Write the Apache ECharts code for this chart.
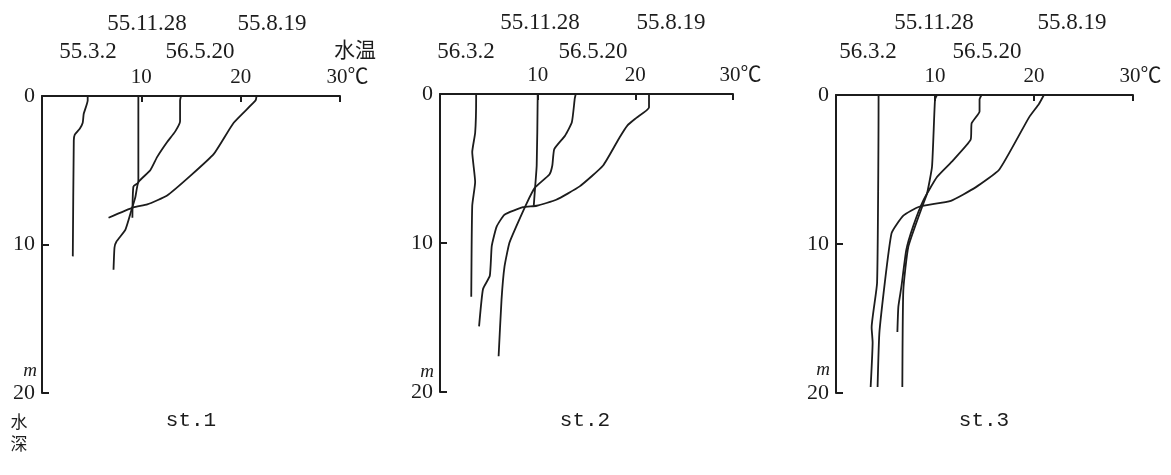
<!DOCTYPE html>
<html><head><meta charset="utf-8">
<script src="https://cdn.jsdelivr.net/npm/echarts@6/dist/echarts.min.js"></script>
<style>html,body{margin:0;padding:0;background:#fff}#c{width:1171px;height:475px}</style>
</head><body><div id="c"></div>
<script>
// Tick values
const tempTicks = [0, 10, 20, 30];   // 水温 (°C)
const depthTicks = [0, 10, 20];      // 水深 (m)

// Station names
const stations = ['st.1', 'st.2', 'st.3'];

// Date labels per station (top row, bottom row)
const st1Dates = ['55.11.28', '55.8.19', '55.3.2', '56.5.20'];
const st2Dates = ['55.11.28', '55.8.19', '56.3.2', '56.5.20'];
const st3Dates = ['55.11.28', '55.8.19', '56.3.2', '56.5.20'];

// Profiles: [temperature °C, depth m]
// st.1
const st1_55_3_2   = [[4.6,0],[4.6,0.3],[4.2,1.2],[4.1,1.8],[3.8,2.2],[3.3,2.6],[3.2,3.0],[3.1,10.8]];
const st1_55_11_28 = [[9.7,0],[9.7,5.8],[9.2,6.1],[9.1,8.2]];
const st1_56_5_20  = [[14.0,0],[13.9,0.3],[13.9,1.7],[13.4,2.4],[12.6,3.1],[11.6,4.1],[10.9,5.0],[9.7,5.8],[9.4,6.8],[9.0,7.7],[8.4,9.0],[7.5,9.8],[7.3,10.2],[7.2,11.7]];
const st1_55_8_19  = [[21.6,0],[21.5,0.3],[19.3,1.8],[17.3,3.9],[14.9,5.4],[12.6,6.7],[10.6,7.3],[9.2,7.5],[6.7,8.2]];
// st.2
const st2_56_3_2   = [[3.7,0],[3.7,0.3],[3.6,2.6],[3.3,3.9],[3.6,5.9],[3.3,7.5],[3.2,13.6]];
const st2_55_11_28 = [[10.0,0],[10.0,0.3],[9.9,4.8],[9.7,6.6],[9.6,7.5]];
const st2_56_5_20  = [[13.9,0],[13.8,0.3],[13.5,1.9],[12.8,2.8],[11.7,3.7],[11.5,4.8],[11.2,5.4],[9.7,6.3],[8.9,7.3],[7.8,8.9],[7.1,10.0],[6.6,11.6],[6.3,13.8],[6.0,17.6]];
const st2_55_8_19  = [[21.4,0],[21.4,0.9],[20.1,1.6],[19.2,2.1],[18.4,2.9],[16.7,4.8],[14.3,6.2],[11.9,7.1],[9.9,7.5],[8.5,7.6],[6.6,8.1],[5.8,8.9],[5.3,10.2],[5.1,12.2],[4.4,13.1],[4.0,15.6]];
// st.3
const st3_56_3_2   = [[4.3,0],[4.3,0.3],[4.15,12.6],[3.6,15.6],[3.7,16.6],[3.5,19.6]];
const st3_55_11_28 = [[10.2,0],[10.0,0.3],[9.7,4.8],[9.2,6.6],[8.7,7.5],[7.3,10.2],[6.8,13.1],[6.7,19.6]];
const st3_56_5_20  = [[14.7,0],[14.5,0.3],[14.5,1.1],[13.7,1.9],[13.6,3.0],[11.8,4.4],[10.2,5.5],[8.8,7.1],[7.8,8.8],[7.1,10.4],[6.6,12.9],[6.3,14.2],[6.2,15.9]];
const st3_55_8_19  = [[21.0,0],[20.5,0.6],[19.5,1.5],[16.5,5.0],[14.1,6.2],[11.6,7.1],[8.4,7.5],[6.8,8.1],[5.6,9.3],[4.4,15.8],[4.2,19.6]];

const panels = [
  {name: stations[0], dates: st1Dates, series: [st1_55_3_2, st1_55_11_28, st1_56_5_20, st1_55_8_19]},
  {name: stations[1], dates: st2Dates, series: [st2_56_3_2, st2_55_11_28, st2_56_5_20, st2_55_8_19]},
  {name: stations[2], dates: st3Dates, series: [st3_56_3_2, st3_55_11_28, st3_56_5_20, st3_55_8_19]}
];

// Layout
const gridPos = [
  {left: 42, top: 96, width: 298, height: 297},
  {left: 440, top: 94, width: 293, height: 298},
  {left: 836, top: 95, width: 297, height: 298}
];
const ink = '#1c1c1c';
const serif = '"Liberation Serif", "Noto Sans CJK SC", serif';

const chart = echarts.init(document.getElementById('c'), null, {renderer: 'canvas'});

const grid = [], xAxis = [], yAxis = [], series = [], graphic = [];
panels.forEach((p, i) => {
  const g = gridPos[i];
  grid.push({left: g.left, top: g.top, width: g.width, height: g.height, containLabel: false});
  xAxis.push({
    gridIndex: i, type: 'value', position: 'top',
    min: tempTicks[0], max: tempTicks[tempTicks.length - 1], interval: 10,
    axisLine: {show: true, onZero: false, lineStyle: {color: ink, width: 2}},
    axisTick: {show: true, inside: true, length: 6, lineStyle: {color: ink, width: 2}},
    splitLine: {show: false},
    axisLabel: {
      color: ink, fontFamily: serif, fontSize: 21, margin: 8,
      formatter: v => v === 0 ? '' : (v === 30 ? '{u|' + v + '℃}' : String(v)),
      rich: {u: {color: ink, fontFamily: serif, fontSize: 21, padding: [0, 0, 0, 15]}}
    }
  });
  yAxis.push({
    gridIndex: i, type: 'value', inverse: true,
    min: depthTicks[0], max: depthTicks[depthTicks.length - 1], interval: 10,
    axisLine: {show: true, onZero: false, lineStyle: {color: ink, width: 2}},
    axisTick: {show: true, inside: true, length: 7, lineStyle: {color: ink, width: 2}},
    splitLine: {show: false},
    axisLabel: {color: ink, fontFamily: serif, fontSize: 22, margin: 7}
  });
  p.series.forEach((d, k) => {
    series.push({
      type: 'line', xAxisIndex: i, yAxisIndex: i, data: d,
      showSymbol: false, symbol: 'none', smooth: 0.15,
      lineStyle: {color: ink, width: 1.8}, silent: true, animation: false
    });
  });
});

// date labels (positions per panel)
const datePos = [
  [[147, 24], [272, 24], [88, 52], [200, 52]],
  [[540, 23], [671, 23], [466, 52], [593, 52]],
  [[934, 23], [1072, 23], [868, 52], [987, 52]]
];
panels.forEach((p, i) => {
  p.dates.forEach((t, k) => {
    graphic.push({type: 'text', x: datePos[i][k][0], y: datePos[i][k][1], silent: true,
      style: {text: t, fill: ink, font: '23px ' + serif, align: 'center', verticalAlign: 'middle'}});
  });
});
const stPos = [[191, 420], [585, 420], [984, 420]];
panels.forEach((p, i) => {
  graphic.push({type: 'text', x: stPos[i][0], y: stPos[i][1], silent: true,
    style: {text: p.name, fill: ink, font: '21px "Liberation Mono", monospace', align: 'center', verticalAlign: 'middle'}});
});
const mPos = [[30, 371], [427, 372], [823, 370]];
mPos.forEach(m => {
  graphic.push({type: 'text', x: m[0], y: m[1], silent: true,
    style: {text: 'm', fill: ink, font: 'italic 19px ' + serif, align: 'center', verticalAlign: 'middle'}});
});
graphic.push({type: 'text', x: 355, y: 49, silent: true,
  style: {text: '水温', fill: ink, font: '21px "Noto Sans CJK SC"', align: 'center', verticalAlign: 'middle'}});
graphic.push({type: 'text', x: 19, y: 411, silent: true,
  style: {text: '水\n深', fill: ink, font: '17px "Noto Sans CJK SC"', lineHeight: 22, align: 'center', verticalAlign: 'top'}});

chart.setOption({
  animation: false,
  backgroundColor: '#ffffff',
  grid, xAxis, yAxis, series, graphic
});
</script></body></html>
